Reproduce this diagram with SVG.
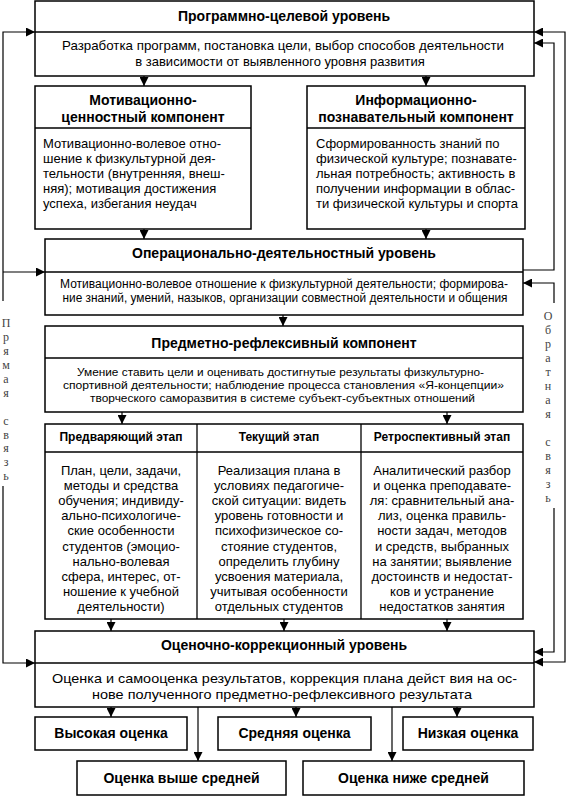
<svg xmlns="http://www.w3.org/2000/svg" width="568" height="796" viewBox="0 0 568 796">
<style>
.box{fill:#fff;stroke:#000;stroke-width:1.5}
.dv{stroke:#000;stroke-width:1.3;fill:none}
.ln{stroke:#000;stroke-width:1.2;fill:none}
.t{font-family:"Liberation Sans",Arial,sans-serif;font-size:13px;fill:#000}
.c{text-anchor:middle}
.b{font-weight:bold;font-size:14px}
.h{font-weight:bold;font-size:12px}
.s{font-family:"Liberation Serif","Times New Roman",serif;font-size:12px;fill:#444;text-anchor:middle}
</style>
<defs>
<marker id="ar" markerUnits="userSpaceOnUse" markerWidth="10" markerHeight="9" refX="9" refY="4.5" orient="auto-start-reverse">
<path d="M0,0 L9,4.5 L0,9 z" fill="#000"/>
</marker>
</defs>
<rect width="568" height="796" fill="#fff"/>

<g id="connectors">
<path class="ln" d="M144,76 V86" marker-end="url(#ar)"/>
<path class="ln" d="M426,76 V86" marker-end="url(#ar)"/>
<path class="ln" d="M144,229 V239" marker-end="url(#ar)"/>
<path class="ln" d="M426,229 V239" marker-end="url(#ar)"/>
<path class="ln" d="M283,315 V326" marker-end="url(#ar)"/>
<path class="ln" d="M122,412 V424" marker-end="url(#ar)"/>
<path class="ln" d="M447,412 V424" marker-end="url(#ar)"/>
<path class="ln" d="M111,619 V631" marker-end="url(#ar)"/>
<path class="ln" d="M284,619 V631" marker-end="url(#ar)"/>
<path class="ln" d="M447,619 V631" marker-end="url(#ar)"/>
<path class="ln" d="M111,707 V717" marker-end="url(#ar)"/>
<path class="ln" d="M296,707 V717" marker-end="url(#ar)"/>
<path class="ln" d="M457,707 V717" marker-end="url(#ar)"/>
<path class="ln" d="M198,707 V761" marker-end="url(#ar)"/>
<path class="ln" d="M392,707 V761" marker-end="url(#ar)"/>
<path class="ln" d="M3,301 V32 H35" marker-end="url(#ar)"/>
<path class="ln" d="M3,272 H45" marker-end="url(#ar)"/>
<path class="ln" d="M3,486 V663 H35" marker-end="url(#ar)"/>
<path class="ln" d="M534,662 H565 V32 H534" marker-start="url(#ar)" marker-end="url(#ar)"/>
<path class="ln" d="M523,270 H554 V43 H534" marker-end="url(#ar)"/>
<path class="ln" d="M554,303 V283 H523" marker-end="url(#ar)"/>
<path class="ln" d="M554,508 V652 H534" marker-end="url(#ar)"/>
</g>

<g id="program">
<rect class="box" x="35" y="1" width="499" height="75"/>
<line class="dv" x1="35" y1="32" x2="534" y2="32"/>
<text class="t c b" x="284" y="21">Программно-целевой уровень</text>
<text class="t c" x="283" y="50" textLength="442" lengthAdjust="spacingAndGlyphs">Разработка программ, постановка цели, выбор способов деятельности</text>
<text class="t c" x="280" y="66">в зависимости от выявленного уровня развития</text>
</g>

<g id="motiv">
<rect class="box" x="35" y="86" width="216" height="143"/>
<line class="dv" x1="35" y1="128" x2="251" y2="128"/>
<text class="t c b" x="143" y="105">Мотивационно-</text>
<text class="t c b" x="143" y="122">ценностный компонент</text>
<text class="t" x="43" y="148">Мотивационно-волевое отно-</text>
<text class="t" x="43" y="163">шение к физкультурной дея-</text>
<text class="t" x="43" y="178">тельности (внутренняя, внеш-</text>
<text class="t" x="43" y="193">няя); мотивация достижения</text>
<text class="t" x="43" y="208">успеха, избегания неудач</text>
</g>

<g id="info">
<rect class="box" x="307" y="86" width="218" height="143"/>
<line class="dv" x1="307" y1="128" x2="525" y2="128"/>
<text class="t c b" x="416" y="105">Информационно-</text>
<text class="t c b" x="416" y="122">познавательный компонент</text>
<text class="t" x="316" y="148">Сформированность знаний по</text>
<text class="t" x="316" y="163">физической культуре; познавате-</text>
<text class="t" x="316" y="178">льная потребность; активность в</text>
<text class="t" x="316" y="193">получении информации в облас-</text>
<text class="t" x="316" y="208">ти физической культуры и спорта</text>
</g>

<g id="operational">
<rect class="box" x="45" y="239" width="478" height="76"/>
<line class="dv" x1="45" y1="272" x2="523" y2="272"/>
<text class="t c b" x="284" y="258">Операционально-деятельностный уровень</text>
<text class="t c" x="284" y="288" style="font-size:12px" textLength="448" lengthAdjust="spacingAndGlyphs">Мотивационно-волевое отношение к физкультурной деятельности; формирова-</text>
<text class="t c" x="285" y="302" style="font-size:12px" textLength="445" lengthAdjust="spacingAndGlyphs">ние знаний, умений, назыков, организации совместной деятельности и общения</text>
</g>

<g id="predmet">
<rect class="box" x="45" y="326" width="478" height="86"/>
<line class="dv" x1="45" y1="358" x2="523" y2="358"/>
<text class="t c b" x="284" y="348">Предметно-рефлексивный компонент</text>
<text class="t c" x="280.5" y="376" style="font-size:11px" textLength="407" lengthAdjust="spacingAndGlyphs">Умение ставить цели и оценивать достигнутые результаты физкультурно-</text>
<text class="t c" x="283.5" y="389" style="font-size:11px" textLength="441" lengthAdjust="spacingAndGlyphs">спортивной деятельности; наблюдение процесса становления «Я-концепции»</text>
<text class="t c" x="282.5" y="402" style="font-size:11px" textLength="385" lengthAdjust="spacingAndGlyphs">творческого саморазвития в системе субъект-субъектных отношений</text>
</g>

<g id="stages">
<rect class="box" x="45" y="424" width="478" height="195"/>
<line class="dv" x1="45" y1="452" x2="523" y2="452"/>
<line class="dv" x1="197" y1="424" x2="197" y2="619"/>
<line class="dv" x1="361" y1="424" x2="361" y2="619"/>
</g>

<g id="stage1">
<text class="t c h" x="121" y="441">Предваряющий этап</text>
<text class="t c" x="121" y="474.5">План, цели, задачи,</text>
<text class="t c" x="121" y="489.7">методы и средства</text>
<text class="t c" x="121" y="504.9">обучения; индивиду-</text>
<text class="t c" x="121" y="520.1">ально-психологиче-</text>
<text class="t c" x="121" y="535.3">ские особенности</text>
<text class="t c" x="121" y="550.5">студентов (эмоцио-</text>
<text class="t c" x="121" y="565.7">нально-волевая</text>
<text class="t c" x="121" y="580.9">сфера, интерес, от-</text>
<text class="t c" x="121" y="596.1">ношение к учебной</text>
<text class="t c" x="121" y="611.3">деятельности)</text>
</g>

<g id="stage2">
<text class="t c h" x="279" y="441">Текущий этап</text>
<text class="t c" x="279" y="474.5">Реализация плана в</text>
<text class="t c" x="279" y="489.7">условиях педагогиче-</text>
<text class="t c" x="279" y="504.9">ской ситуации: видеть</text>
<text class="t c" x="279" y="520.1">уровень готовности и</text>
<text class="t c" x="279" y="535.3">психофизическое со-</text>
<text class="t c" x="279" y="550.5">стояние студентов,</text>
<text class="t c" x="279" y="565.7">определить глубину</text>
<text class="t c" x="279" y="580.9">усвоения материала,</text>
<text class="t c" x="279" y="596.1">учитывая особенности</text>
<text class="t c" x="279" y="611.3">отдельных студентов</text>
</g>

<g id="stage3">
<text class="t c h" x="442" y="441">Ретроспективный этап</text>
<text class="t c" x="442" y="474.5">Аналитический разбор</text>
<text class="t c" x="442" y="489.7">и оценка преподавате-</text>
<text class="t c" x="442" y="504.9">ля: сравнительный ана-</text>
<text class="t c" x="442" y="520.1">лиз, оценка правиль-</text>
<text class="t c" x="442" y="535.3">ности задач, методов</text>
<text class="t c" x="442" y="550.5">и средств, выбранных</text>
<text class="t c" x="442" y="565.7">на занятии; выявление</text>
<text class="t c" x="442" y="580.9">достоинств и недостат-</text>
<text class="t c" x="442" y="596.1">ков и устранение</text>
<text class="t c" x="442" y="611.3">недостатков занятия</text>
</g>

<g id="evaluation">
<rect class="box" x="35" y="631" width="499" height="76"/>
<line class="dv" x1="35" y1="663" x2="534" y2="663"/>
<text class="t c b" x="284" y="650">Оценочно-коррекционный уровень</text>
<text class="t c" x="284.5" y="683" style="font-size:13.5px" textLength="465" lengthAdjust="spacingAndGlyphs">Оценка и самооценка результатов, коррекция плана дейст вия на ос-</text>
<text class="t c" x="282" y="699" style="font-size:13.5px" textLength="380" lengthAdjust="spacingAndGlyphs">нове полученного предметно-рефлексивного результата</text>
</g>

<g id="high">
<rect class="box" x="35" y="717" width="152" height="33"/>
<text class="t c b" x="111" y="738">Высокая оценка</text>
</g>
<g id="medium">
<rect class="box" x="218" y="717" width="153" height="33"/>
<text class="t c b" x="294.5" y="738">Средняя оценка</text>
</g>
<g id="low">
<rect class="box" x="403" y="717" width="130" height="33"/>
<text class="t c b" x="468" y="738">Низкая оценка</text>
</g>
<g id="above">
<rect class="box" x="77" y="761" width="209" height="34"/>
<text class="t c b" x="181.5" y="783">Оценка выше средней</text>
</g>
<g id="below">
<rect class="box" x="303" y="761" width="221" height="34"/>
<text class="t c b" x="413.5" y="783">Оценка ниже средней</text>
</g>

<g id="direct-label">
<text class="s" x="6" y="327">П</text>
<text class="s" x="6" y="341">р</text>
<text class="s" x="6" y="355">я</text>
<text class="s" x="6" y="369">м</text>
<text class="s" x="6" y="383">а</text>
<text class="s" x="6" y="397">я</text>
<text class="s" x="6" y="425">с</text>
<text class="s" x="6" y="439">в</text>
<text class="s" x="6" y="452">я</text>
<text class="s" x="6" y="466">з</text>
<text class="s" x="6" y="480">ь</text>
</g>

<g id="feedback-label">
<text class="s" x="548" y="320">О</text>
<text class="s" x="548" y="334">б</text>
<text class="s" x="548" y="348">р</text>
<text class="s" x="548" y="362">а</text>
<text class="s" x="548" y="376">т</text>
<text class="s" x="548" y="390">н</text>
<text class="s" x="548" y="404">а</text>
<text class="s" x="548" y="418">я</text>
<text class="s" x="548" y="446">с</text>
<text class="s" x="548" y="460">в</text>
<text class="s" x="548" y="474">я</text>
<text class="s" x="548" y="488">з</text>
<text class="s" x="548" y="502">ь</text>
</g>
</svg>
